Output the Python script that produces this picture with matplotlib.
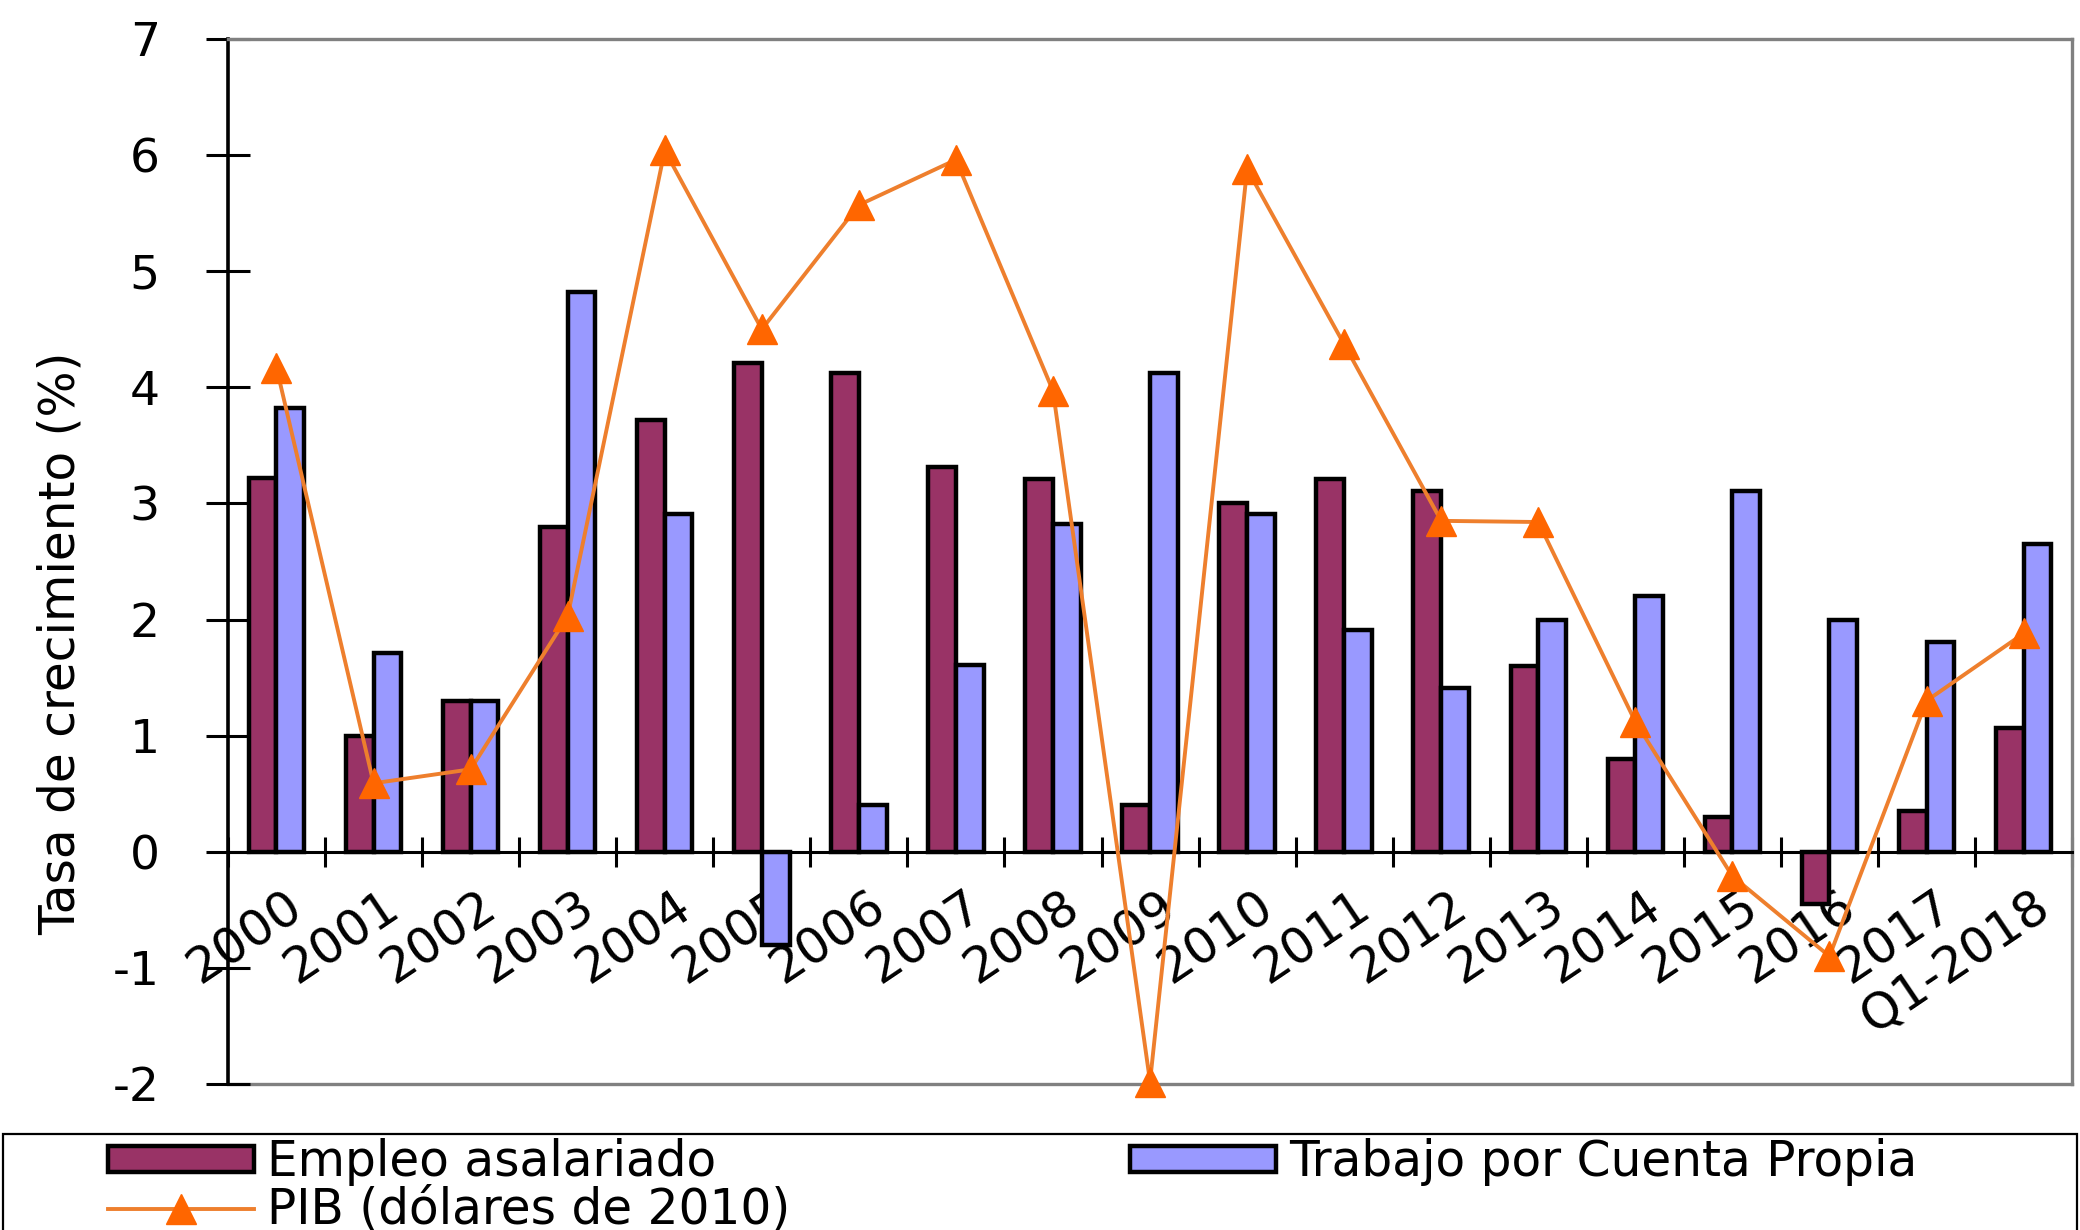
import matplotlib
matplotlib.use('Agg')
import matplotlib.pyplot as plt
import matplotlib.transforms as mtransforms
import numpy as np
from matplotlib.patches import Rectangle

categories = ['2000', '2001', '2002', '2003', '2004', '2005', '2006', '2007', '2008', '2009',
              '2010', '2011', '2012', '2013', '2014', '2015', '2016', '2017', 'Q1-2018']
empleo = [3.22, 1.0, 1.3, 2.8, 3.72, 4.21, 4.12, 3.31, 3.21, 0.4,
          3.0, 3.21, 3.11, 1.6, 0.8, 0.3, -0.45, 0.35, 1.07]
cuenta_propia = [3.82, 1.71, 1.3, 4.82, 2.91, -0.8, 0.4, 1.61, 2.82, 4.12,
                 2.91, 1.91, 1.41, 2.0, 2.2, 3.11, 2.0, 1.81, 2.65]
pib = [4.17, 0.59, 0.71, 2.03, 6.04, 4.5, 5.57, 5.96, 3.97, -1.98,
       5.88, 4.37, 2.85, 2.84, 1.12, -0.21, -0.9, 1.3, 1.88]
yticks = [-2, -1, 0, 1, 2, 3, 4, 5, 6, 7]

plt.rcParams['font.family'] = ['DejaVu Sans']

fig = plt.figure(figsize=(20.8, 12.3), dpi=100)
ax = fig.add_axes([0.1096, 0.1187, 0.9962 - 0.1096, 0.9683 - 0.1187])

x = np.arange(len(categories))
w = 1 / 3.5
b1 = ax.bar(x - w / 2, empleo, w, color='#993366', edgecolor='black', linewidth=3.2,
            label='Empleo asalariado', zorder=2)
b2 = ax.bar(x + w / 2, cuenta_propia, w, color='#9999FF', edgecolor='black', linewidth=3.2,
            label='Trabajo por Cuenta Propia', zorder=2)
ln, = ax.plot(x, pib, color='#EE7F2D', linewidth=2.8, marker='^', markersize=21,
              markerfacecolor='#FF6600', markeredgecolor='#FF6600',
              label='PIB (dólares de 2010)', zorder=4, clip_on=False)

ax.set_xlim(-0.5, len(categories) - 0.5)
ax.set_ylim(-2, 7)

# spines
ax.spines['left'].set_color('black')
ax.spines['left'].set_linewidth(2.6)
ax.spines['bottom'].set_position(('data', 0))
ax.spines['bottom'].set_color('black')
ax.spines['bottom'].set_linewidth(2.2)
ax.spines['bottom'].set_zorder(3)
for s in ['top', 'right']:
    ax.spines[s].set_color('#808080')
    ax.spines[s].set_linewidth(2.4)
ax.axhline(-2, color='#808080', linewidth=2.4, clip_on=False, zorder=1)

# y ticks
ax.set_yticks(yticks)
ax.set_yticklabels([str(v) for v in yticks])
ax.tick_params(axis='y', direction='inout', length=32, width=2.2, pad=33,
               labelsize=34, colors='black')

# x ticks: boundaries major (marks), centers minor (labels)
ax.set_xticks(np.arange(len(categories) + 1) - 0.5)
ax.set_xticklabels([])
ax.tick_params(axis='x', which='major', direction='inout', length=22, width=2.2)
ax.set_xticks(x, minor=True)
labels = ax.set_xticklabels(categories, minor=True, rotation=34, ha='right', va='top',
                            rotation_mode='anchor', fontsize=36)
ax.tick_params(axis='x', which='minor', length=0, pad=22)
shift = mtransforms.ScaledTranslation(8 / 100, 0, fig.dpi_scale_trans)
for lab in labels:
    lab.set_transform(lab.get_transform() + shift)

fig.text(0.029, 0.477, 'Tasa de crecimiento (%)', rotation=90, ha='center',
         va='center', fontsize=35)

# legend
fs = 35
fpx = fs * 100 / 72
leg = fig.legend(handles=[b1, ln, b2], ncol=2, loc='upper left',
                 bbox_to_anchor=(108 / 2080, 1 - 1138 / 1230),
                 bbox_transform=fig.transFigure, frameon=False, fontsize=fs,
                 borderpad=0, borderaxespad=0, handlelength=146 / fpx,
                 handleheight=0.45, handletextpad=0.26, labelspacing=0.0,
                 columnspacing=7.0)
fig.patches.append(Rectangle((0.0015, -0.05), 0.997, 0.05 + (1 - 1134 / 1230),
                             transform=fig.transFigure, fill=False,
                             edgecolor='black', linewidth=1.6))

fig.savefig('out.png', dpi=100)
